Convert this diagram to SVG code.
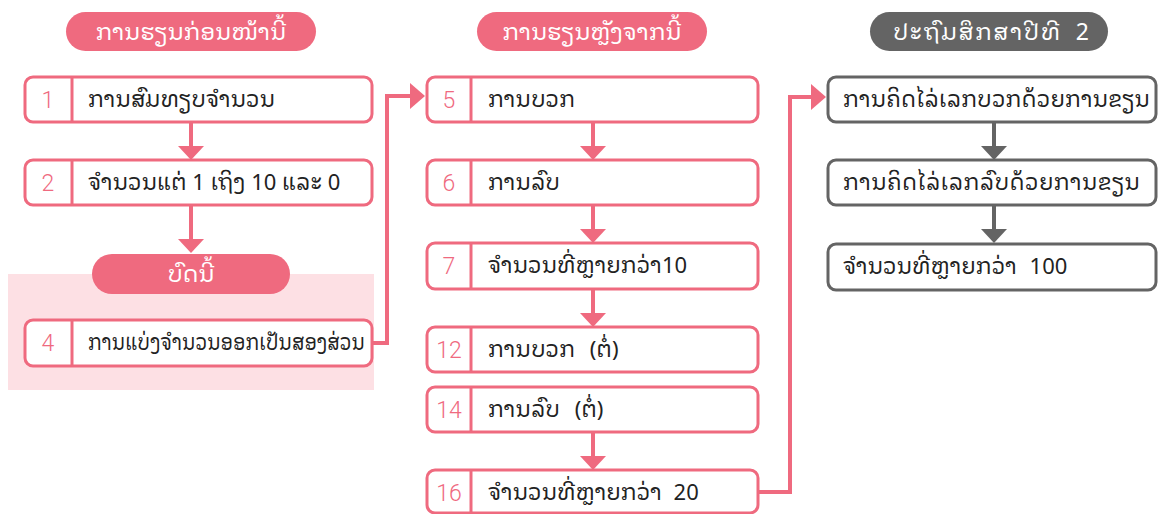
<svg xmlns="http://www.w3.org/2000/svg" width="1161" height="514" viewBox="0 0 1161 514">
<style>
.box{fill:#fff;stroke:#ef6a7f;stroke-width:3}
.gbox{fill:#fff;stroke:#646464;stroke-width:3}
.div{stroke:#ef6a7f;stroke-width:3}
.num{font-family:Roboto,"Liberation Sans",Arial,sans-serif;font-weight:300;font-size:23px;fill:#ef6a7f;text-anchor:middle}
.lao{font-family:"Noto Sans Lao Looped","Noto Sans Lao","DejaVu Sans",sans-serif;font-size:22px;fill:#222}
.hd{font-family:"Noto Sans Lao Looped","Noto Sans Lao","DejaVu Sans",sans-serif;font-size:23px;fill:#fff;text-anchor:middle}
.ws{word-spacing:9px}
.pill{fill:#ef6a7f}
.gpill{fill:#646464}
.ln{fill:none;stroke:#ef6a7f;stroke-width:4}
.gln{fill:none;stroke:#646464;stroke-width:4}
.ah{fill:#ef6a7f}
.gah{fill:#646464}
</style>
<rect x="8" y="274" width="366" height="116" fill="#fde0e4"/>
<g id="connectors">
<path class="ln" d="M191,122V147"/><polygon class="ah" points="178,146 204,146 191,160"/>
<path class="ln" d="M191,205V240"/><polygon class="ah" points="178,239 204,239 191,253"/>
<path class="ln" d="M372,343H387V96H412"/><polygon class="ah" points="410,83 410,109 425,96"/>
<path class="ln" d="M593,122V147"/><polygon class="ah" points="580,146 606,146 593,160"/>
<path class="ln" d="M593,205V230"/><polygon class="ah" points="580,229 606,229 593,243"/>
<path class="ln" d="M593,289V314"/><polygon class="ah" points="580,313 606,313 593,327"/>
<path class="ln" d="M593,432V457"/><polygon class="ah" points="580,456 606,456 593,470"/>
<path class="ln" d="M758,492H790V97H813"/><polygon class="ah" points="811,84 811,110 826,97"/>
<path class="gln" d="M994,122V147"/><polygon class="gah" points="981,146 1007,146 994,160"/>
<path class="gln" d="M994,205V230"/><polygon class="gah" points="981,229 1007,229 994,243"/>
</g>
<g id="h1"><rect class="pill" x="66" y="12" width="250" height="39" rx="19.5"/><text class="hd" x="191" y="40">ການຮຽນກ່ອນໜ້ານີ້</text></g>
<g id="n1"><rect class="box" x="25" y="77" width="347" height="45" rx="8"/><line class="div" x1="72" y1="77" x2="72" y2="122"/><text class="num" x="48" y="108">1</text><text class="lao" x="88" y="107">ການສົມທຽບຈຳນວນ</text></g>
<g id="n2"><rect class="box" x="25" y="160" width="347" height="45" rx="8"/><line class="div" x1="72" y1="160" x2="72" y2="205"/><text class="num" x="48" y="191">2</text><text class="lao" x="88" y="190">ຈຳນວນແຕ່ 1 ເຖິງ 10 ແລະ 0</text></g>
<g id="h2"><rect class="pill" x="92" y="254" width="198" height="40" rx="20"/><text class="hd" x="191" y="282">ບົດນີ້</text></g>
<g id="n4"><rect class="box" x="25" y="320" width="347" height="46" rx="8"/><line class="div" x1="72" y1="320" x2="72" y2="366"/><text class="num" x="48" y="351">4</text><text class="lao" x="88" y="350" textLength="277" lengthAdjust="spacingAndGlyphs">ການແບ່ງຈຳນວນອອກເປັນສອງສ່ວນ</text></g>
<g id="h3"><rect class="pill" x="477" y="12" width="230" height="39" rx="19.5"/><text class="hd" x="592" y="40">ການຮຽນຫຼັງຈາກນີ້</text></g>
<g id="n5"><rect class="box" x="427" y="77" width="331" height="45" rx="8"/><line class="div" x1="471" y1="77" x2="471" y2="122"/><text class="num" x="449" y="108">5</text><text class="lao" x="488" y="107">ການບວກ</text></g>
<g id="n6"><rect class="box" x="427" y="160" width="331" height="45" rx="8"/><line class="div" x1="471" y1="160" x2="471" y2="205"/><text class="num" x="449" y="191">6</text><text class="lao" x="488" y="190">ການລົບ</text></g>
<g id="n7"><rect class="box" x="427" y="243" width="331" height="46" rx="8"/><line class="div" x1="471" y1="243" x2="471" y2="289"/><text class="num" x="449" y="274">7</text><text class="lao" x="488" y="273">ຈຳນວນທີ່ຫຼາຍກວ່າ10</text></g>
<g id="n12"><rect class="box" x="427" y="327" width="331" height="45" rx="8"/><line class="div" x1="471" y1="327" x2="471" y2="372"/><text class="num" x="449" y="358">12</text><text class="lao ws" x="488" y="357">ການບວກ (ຕໍ່)</text></g>
<g id="n14"><rect class="box" x="427" y="387" width="331" height="45" rx="8"/><line class="div" x1="471" y1="387" x2="471" y2="432"/><text class="num" x="449" y="418">14</text><text class="lao ws" x="488" y="417">ການລົບ (ຕໍ່)</text></g>
<g id="n16"><rect class="box" x="427" y="470" width="331" height="43" rx="8"/><line class="div" x1="471" y1="470" x2="471" y2="513"/><text class="num" x="449" y="501">16</text><text class="lao" x="488" y="500" style="word-spacing:6px">ຈຳນວນທີ່ຫຼາຍກວ່າ 20</text></g>
<g id="h4"><rect class="gpill" x="870" y="12" width="238" height="39" rx="19.5"/><text class="hd" x="991" y="40" style="word-spacing:7px" textLength="196">ປະຖົມສຶກສາປີທີ 2</text></g>
<g id="g1"><rect class="gbox" x="828" y="77" width="328" height="45" rx="8"/><text class="lao" x="843" y="107" textLength="307">ການຄິດໄລ່ເລກບວກດ້ວຍການຂຽນ</text></g>
<g id="g2"><rect class="gbox" x="828" y="160" width="328" height="45" rx="8"/><text class="lao" x="843" y="190" textLength="297">ການຄິດໄລ່ເລກລົບດ້ວຍການຂຽນ</text></g>
<g id="g3"><rect class="gbox" x="828" y="244" width="328" height="46" rx="8"/><text class="lao" x="843" y="274" style="word-spacing:7px">ຈຳນວນທີ່ຫຼາຍກວ່າ 100</text></g>
</svg>
